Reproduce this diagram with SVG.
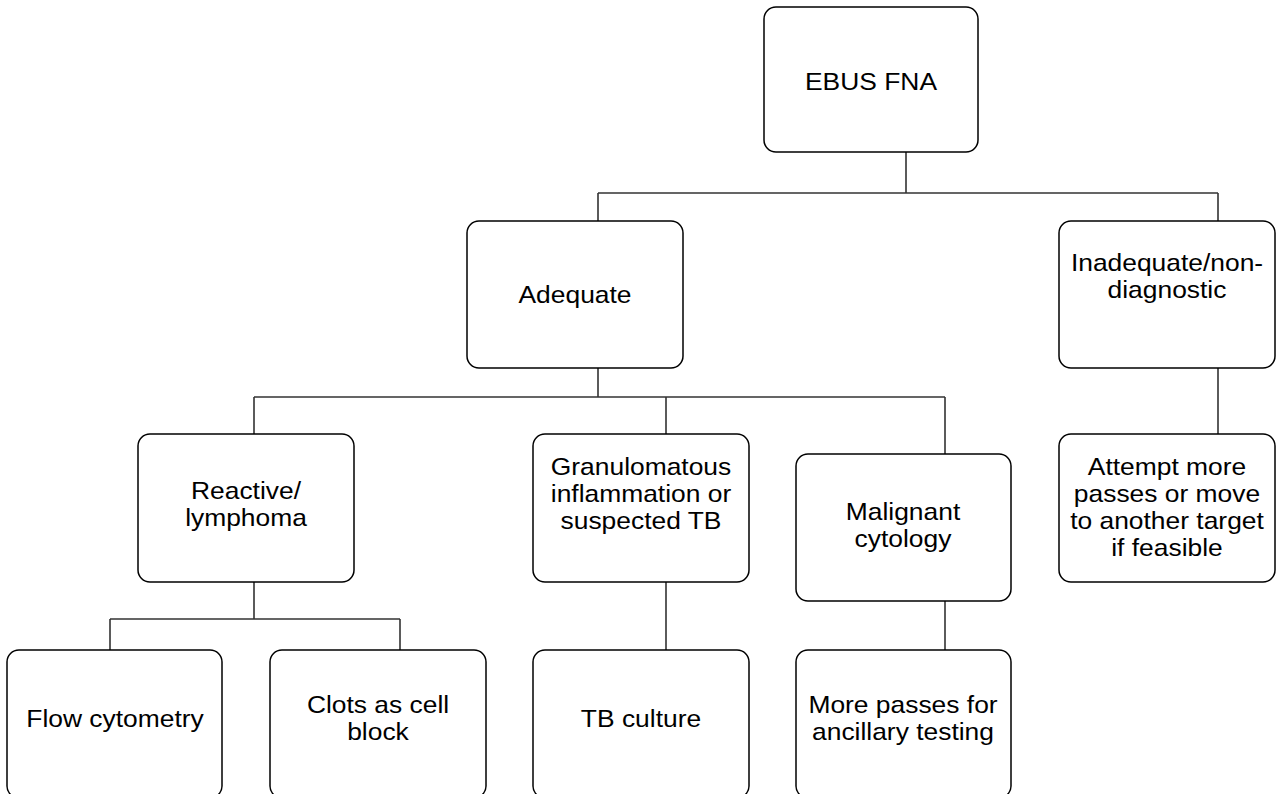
<svg xmlns="http://www.w3.org/2000/svg" width="1276" height="794" viewBox="0 0 1276 794">
<style>
.box{fill:#fff;stroke:#000;stroke-width:1.5}
.lbl{font-family:"Liberation Sans",Arial,sans-serif;font-size:24px;fill:#000;text-anchor:middle}
.con{fill:none;stroke:#333;stroke-width:1.6}
</style>
<rect width="1276" height="794" fill="#fff"/>
<g id="connectors">
<path class="con" d="M906 152V193M598 193H1218M598 193V221M1218 193V221"/>
<path class="con" d="M598 368V397M254 397H945M254 397V434M666 397V434M945 397V454"/>
<path class="con" d="M1218 368V434"/>
<path class="con" d="M254 582V619M110 619H400M110 619V650M400 619V650"/>
<path class="con" d="M666 582V650"/>
<path class="con" d="M945 601V650"/>
</g>
<g id="ebus"><rect class="box" x="764" y="7" width="214" height="145" rx="12"/><text class="lbl" transform="translate(871 90) scale(1.1 1)">EBUS FNA</text></g>
<g id="adequate"><rect class="box" x="467" y="221" width="216" height="147" rx="12"/><text class="lbl" transform="translate(575 303) scale(1.1 1)">Adequate</text></g>
<g id="inadequate"><rect class="box" x="1059" y="221" width="216" height="147" rx="12"/><text class="lbl" transform="translate(1167 271) scale(1.1 1)">Inadequate/non-</text><text class="lbl" transform="translate(1167 298) scale(1.1 1)">diagnostic</text></g>
<g id="reactive"><rect class="box" x="138" y="434" width="216" height="148" rx="12"/><text class="lbl" transform="translate(246 499) scale(1.1 1)">Reactive/</text><text class="lbl" transform="translate(246 526) scale(1.1 1)">lymphoma</text></g>
<g id="granulomatous"><rect class="box" x="533" y="434" width="216" height="148" rx="12"/><text class="lbl" transform="translate(641 475) scale(1.1 1)">Granulomatous</text><text class="lbl" transform="translate(641 502) scale(1.1 1)">inflammation or</text><text class="lbl" transform="translate(641 529) scale(1.1 1)">suspected TB</text></g>
<g id="malignant"><rect class="box" x="796" y="454" width="215" height="147" rx="12"/><text class="lbl" transform="translate(903 520) scale(1.1 1)">Malignant</text><text class="lbl" transform="translate(903 547) scale(1.1 1)">cytology</text></g>
<g id="attempt"><rect class="box" x="1059" y="434" width="216" height="148" rx="12"/><text class="lbl" transform="translate(1167 475) scale(1.1 1)">Attempt more</text><text class="lbl" transform="translate(1167 502) scale(1.1 1)">passes or move</text><text class="lbl" transform="translate(1167 529) scale(1.1 1)">to another target</text><text class="lbl" transform="translate(1167 556) scale(1.1 1)">if feasible</text></g>
<g id="flow"><rect class="box" x="7" y="650" width="215" height="148" rx="12"/><text class="lbl" transform="translate(115 727) scale(1.1 1)">Flow cytometry</text></g>
<g id="clots"><rect class="box" x="270" y="650" width="216" height="148" rx="12"/><text class="lbl" transform="translate(378 713) scale(1.1 1)">Clots as cell</text><text class="lbl" transform="translate(378 740) scale(1.1 1)">block</text></g>
<g id="tbculture"><rect class="box" x="533" y="650" width="216" height="148" rx="12"/><text class="lbl" transform="translate(641 727) scale(1.1 1)">TB culture</text></g>
<g id="morepasses"><rect class="box" x="796" y="650" width="215" height="148" rx="12"/><text class="lbl" transform="translate(903 713) scale(1.1 1)">More passes for</text><text class="lbl" transform="translate(903 740) scale(1.1 1)">ancillary testing</text></g>
</svg>
